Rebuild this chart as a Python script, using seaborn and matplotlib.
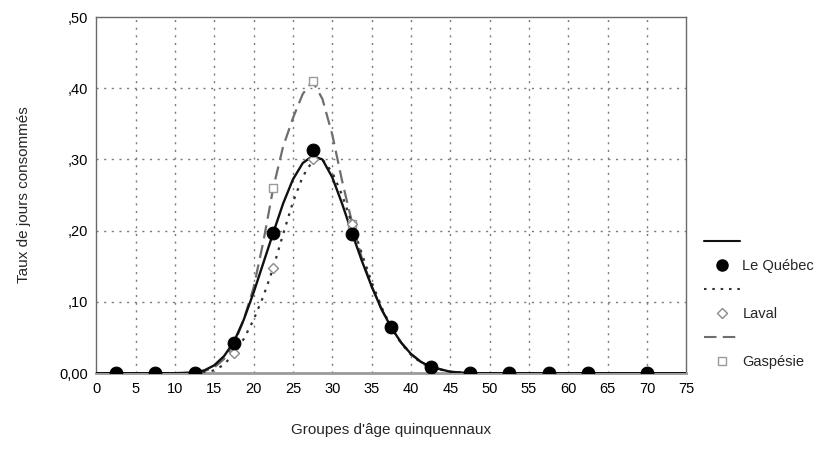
import matplotlib
matplotlib.use('Agg')
import matplotlib.pyplot as plt
import seaborn as sns
from matplotlib.lines import Line2D
from matplotlib.ticker import FixedLocator

sns.set_style('white')
plt.rcParams['font.family'] = ['Liberation Sans', 'DejaVu Sans']
plt.rcParams['font.size'] = 10.5

# marker positions (age group midpoints) and values
age_points = [2.5, 7.5, 12.5, 17.5, 22.5, 27.5, 32.5, 37.5, 42.5, 47.5, 52.5, 57.5, 62.5, 70]
quebec_pts = [0, 0, 0, 0.043, 0.197, 0.313, 0.195, 0.065, 0.008, 0, 0, 0, 0, 0]
laval_pts = [0, 0, 0, 0.028, 0.148, 0.300, 0.210, 0.065, 0.007, 0, 0, 0, 0, 0]
gaspesie_pts = [0, 0, 0, 0.040, 0.260, 0.410, 0.210, 0.065, 0.007, 0, 0, 0, 0, 0]

# smoothed curves at closer spacing
age_curve = [0, 5, 10, 12.5, 13.75, 15, 16.25, 17.5, 18.75, 20, 21.25, 22.5, 23.75, 25,
             26.25, 27.5, 28.75, 30, 31.25, 32.5, 33.75, 35, 36.25, 37.5, 38.75, 40,
             41.25, 42.5, 45, 47.5, 50, 55, 60, 65, 70, 75]
quebec_curve = [0, 0, 0, 0.001, 0.004, 0.011, 0.024, 0.044, 0.075, 0.113, 0.155, 0.197,
                0.238, 0.272, 0.295, 0.305, 0.300, 0.275, 0.238, 0.197, 0.158, 0.122,
                0.090, 0.064, 0.043, 0.027, 0.016, 0.009, 0.002, 0, 0, 0, 0, 0, 0, 0]
laval_curve = [0, 0, 0, 0, 0.001, 0.004, 0.012, 0.028, 0.048, 0.075, 0.108, 0.148,
               0.195, 0.240, 0.276, 0.298, 0.300, 0.282, 0.250, 0.210, 0.168, 0.128,
               0.093, 0.064, 0.042, 0.026, 0.015, 0.008, 0.002, 0, 0, 0, 0, 0, 0, 0]
gaspesie_curve = [0, 0, 0, 0, 0.003, 0.008, 0.020, 0.040, 0.075, 0.120, 0.185, 0.260,
                  0.318, 0.358, 0.392, 0.410, 0.385, 0.335, 0.270, 0.212, 0.162, 0.122,
                  0.090, 0.064, 0.043, 0.027, 0.016, 0.009, 0.002, 0, 0, 0, 0, 0, 0, 0]

x_ticks = list(range(0, 80, 5))
y_ticks = [0, 0.1, 0.2, 0.3, 0.4, 0.5]
y_tick_labels = ['0,00', ',10', ',20', ',30', ',40', ',50']

fig = plt.figure(figsize=(8.29, 4.73), dpi=100)
ax = fig.add_axes([0.116, 0.211, 0.712, 0.753])

# grid first so curves sit on top
for xv in x_ticks[1:-1]:
    ax.axvline(xv, color='#7a7a7a', lw=1.0, ls=(0, (1.5, 4)), zorder=0)
for yv in y_ticks[1:-1]:
    ax.axhline(yv, color='#7a7a7a', lw=1.0, ls=(0, (1.5, 4)), zorder=0)

sns.lineplot(x=age_curve, y=gaspesie_curve, ax=ax, color='#6e6e6e', lw=1.6,
             linestyle=(0, (6, 3)), zorder=2)
sns.lineplot(x=age_curve, y=laval_curve, ax=ax, color='#333333', lw=1.6,
             linestyle=(0, (1.2, 2.8)), zorder=3)
sns.lineplot(x=age_curve, y=quebec_curve, ax=ax, color='#111111', lw=1.7, zorder=4)

sns.scatterplot(x=age_points, y=gaspesie_pts, ax=ax, marker='s', s=28,
                facecolor='white', edgecolor='#9a9a9a', linewidth=1.0, zorder=5)
sns.scatterplot(x=age_points, y=laval_pts, ax=ax, marker='D', s=26,
                facecolor='white', edgecolor='#8a8a8a', linewidth=1.0, zorder=6)
sns.scatterplot(x=age_points, y=quebec_pts, ax=ax, marker='o', s=85,
                color='black', edgecolor='black', zorder=7)

ax.set_xlim(0, 75)
ax.set_ylim(0, 0.5)
ax.set_xticks(x_ticks)
ax.set_yticks(y_ticks)
ax.set_yticklabels(y_tick_labels)
ax.yaxis.set_minor_locator(FixedLocator([0.05, 0.15, 0.25, 0.35, 0.45]))
ax.tick_params(axis='both', which='both', direction='out', colors='#555555',
               labelcolor='black', length=4)
ax.tick_params(axis='y', which='minor', length=3)
ax.tick_params(axis='both', which='major', labelsize=10.5, pad=2)

for side in ['top', 'right', 'left']:
    ax.spines[side].set_color('#6a6a6a')
    ax.spines[side].set_linewidth(1.0)
ax.spines['bottom'].set_color('#9a9a9a')
ax.spines['bottom'].set_linewidth(2.0)

ax.set_xlabel("Groupes d'âge quinquennaux", fontsize=11, labelpad=20)
ax.set_ylabel('Taux de jours consommés', fontsize=11, labelpad=20)

# SPSS-style legend: line sample on its own row above marker + label
handles = [
    Line2D([], [], color='#111111', lw=1.5),
    Line2D([], [], color='none', marker='o', markersize=8, markerfacecolor='black',
           markeredgecolor='black'),
    Line2D([], [], color='#333333', lw=1.5, linestyle=(0, (1.2, 2.8))),
    Line2D([], [], color='none', marker='D', markersize=5, markerfacecolor='white',
           markeredgecolor='#8a8a8a'),
    Line2D([], [], color='#6e6e6e', lw=1.5, linestyle=(0, (6, 3))),
    Line2D([], [], color='none', marker='s', markersize=5.5, markerfacecolor='white',
           markeredgecolor='#9a9a9a'),
]
labels = ['', 'Le Québec', '', 'Laval', '', 'Gaspésie']
fig.legend(handles, labels, loc='upper left', bbox_to_anchor=(0.842, 0.515),
           frameon=False, handlelength=2.5, handletextpad=0.15, labelspacing=0.68,
           fontsize=10.5, borderaxespad=0)

fig.savefig('out.png', dpi=100)
